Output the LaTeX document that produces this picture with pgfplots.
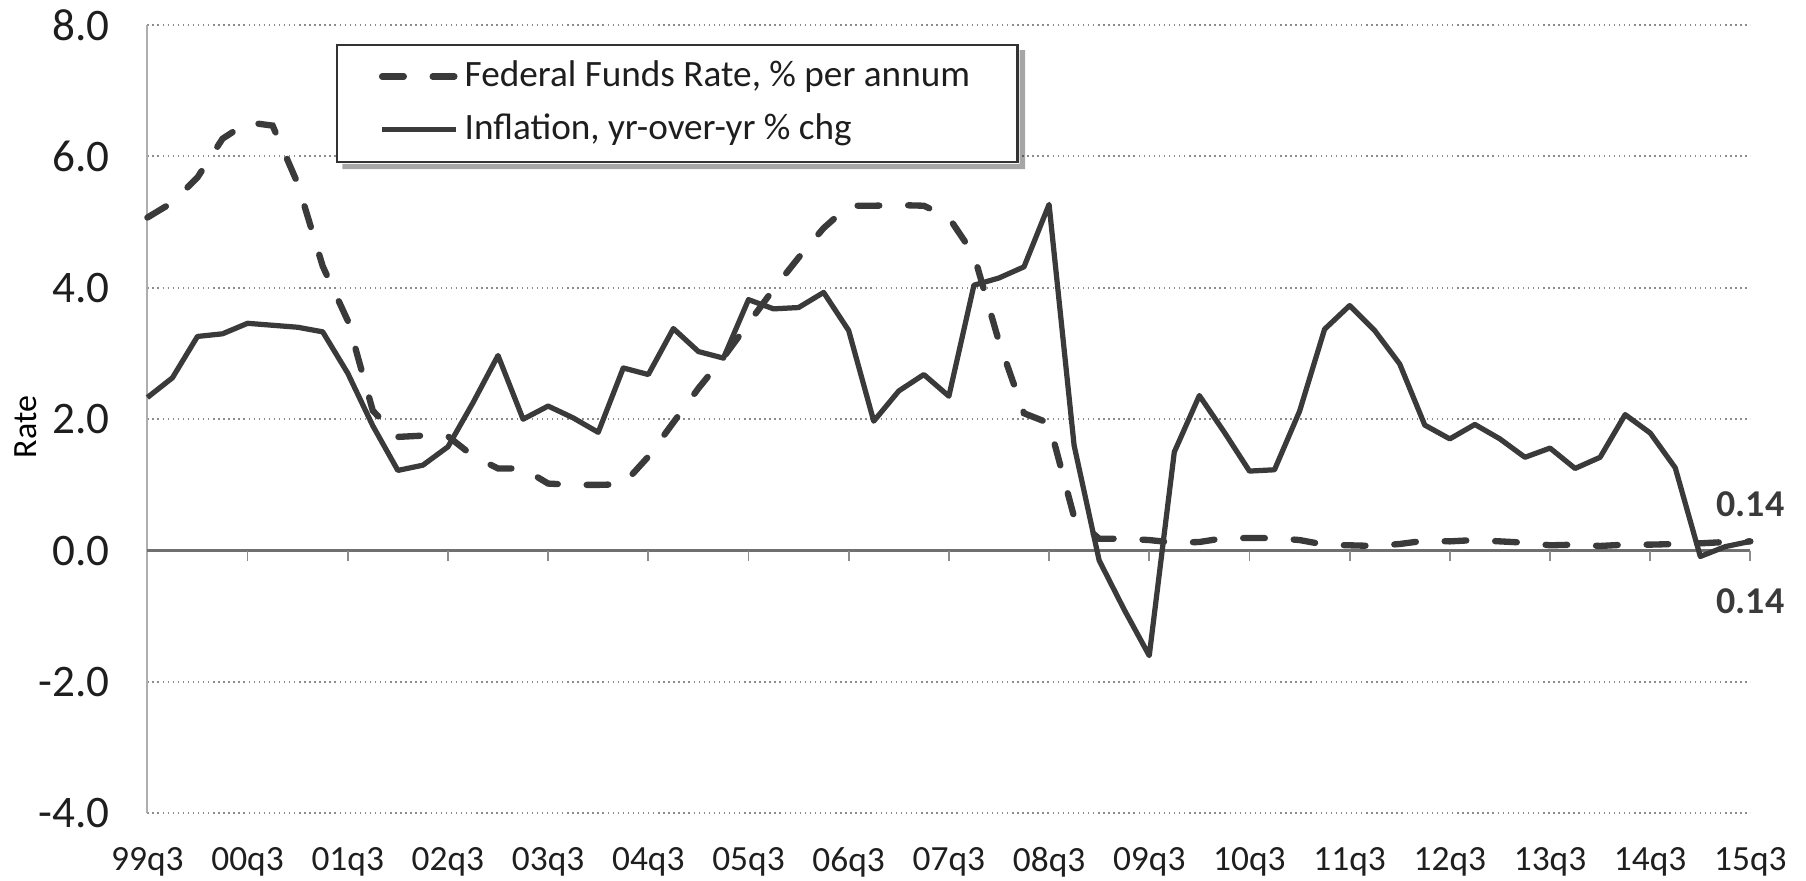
\documentclass[border=0pt]{standalone}
\usepackage{pgfplots}
\pgfplotsset{compat=1.18}
\usepackage{pgfplotstable}
\usepackage{fontspec}
\setmainfont{Carlito}
\definecolor{lc}{HTML}{3A3A3A}
\definecolor{gridc}{HTML}{8C8C8C}
\definecolor{txt}{HTML}{1E1E1E}

\pgfplotstableread{
i ffr cpi
0 5.07 2.33
1 5.30 2.63
2 5.68 3.26
3 6.27 3.30
4 6.52 3.46
5 6.47 3.43
6 5.59 3.40
7 4.33 3.33
8 3.50 2.70
9 2.13 1.90
10 1.73 1.22
11 1.75 1.30
12 1.74 1.58
13 1.44 2.25
14 1.25 2.97
15 1.25 2.00
16 1.02 2.20
17 1.00 2.02
18 1.00 1.80
19 1.01 2.78
20 1.43 2.68
21 1.95 3.38
22 2.47 3.03
23 2.94 2.93
24 3.46 3.82
25 3.98 3.68
26 4.46 3.70
27 4.91 3.93
28 5.25 3.35
29 5.25 1.97
30 5.26 2.43
31 5.25 2.68
32 5.07 2.35
33 4.50 4.04
34 3.18 4.15
35 2.09 4.32
36 1.94 5.27
37 0.51 1.60
38 0.18 -0.15
39 0.18 -0.90
40 0.16 -1.60
41 0.12 1.50
42 0.13 2.36
43 0.19 1.80
44 0.19 1.21
45 0.19 1.23
46 0.16 2.12
47 0.09 3.37
48 0.08 3.73
49 0.07 3.35
50 0.10 2.84
51 0.15 1.91
52 0.14 1.70
53 0.16 1.92
54 0.14 1.70
55 0.12 1.42
56 0.08 1.56
57 0.09 1.25
58 0.07 1.42
59 0.09 2.07
60 0.09 1.79
61 0.10 1.26
62 0.11 -0.09
63 0.13 0.06
64 0.14 0.14
}\datatable

\begin{document}
\begin{tikzpicture}
\begin{axis}[
  scale only axis, width=443.8pt, height=218.2pt,
  xmin=0, xmax=64, ymin=-4, ymax=8,
  clip=false,
  axis lines*=left,
  x axis line style={draw=none},
  y axis line style={gridc!70, line width=0.6pt},
  tick style={draw=none},
  xtick={0,4,...,64},
  xticklabels={99q3,00q3,01q3,02q3,03q3,04q3,05q3,06q3,07q3,08q3,09q3,10q3,11q3,12q3,13q3,14q3,15q3},
  ytick={-4,-2,...,8},
  /pgf/number format/assume math mode=true,
  y tick label style={/pgf/number format/.cd, fixed, fixed zerofill, precision=1, /tikz/.cd,
     font=\fontsize{12.5}{14}\selectfont, text=txt, xshift=-7pt},
  x tick label style={font=\fontsize{9.8}{11}\selectfont, text=txt, yshift=-6pt},
  ymajorgrids,
  grid style={densely dotted, gridc, line width=0.55pt},
  every axis y label/.style={at={(axis description cs:-0.0757,0.49)}, rotate=90, anchor=center},
  ylabel={\fontsize{9.4}{11}\selectfont Rate},
  legend style={at={(axis cs:7.53,7.72)}, anchor=north west, draw=black!80, line width=0.6pt,
     fill=white, name=leg,
     font=\fontsize{10.3}{12}\selectfont, text=txt,
     inner xsep=11.6pt, inner ysep=3pt, row sep=3.1pt, nodes={inner sep=1.5pt}},
  legend cell align=left,
  legend image code/.code={\draw[#1] (0pt,0pt) -- (20.5pt,0pt);},
]
\draw[gridc!80!black, line width=0.6pt] (axis cs:0,0) -- (axis cs:64,0);
\pgfplotsinvokeforeach{4,8,...,64}{\draw[gridc, line width=0.5pt] (axis cs:#1,0) -- ([yshift=-3pt]axis cs:#1,0);}
\addplot[lc, line width=1.75pt, line cap=round, dash pattern=on 6pt off 8pt] table[x=i,y=ffr]{\datatable};
\addlegendentry{Federal Funds Rate, \% per annum}
\addplot[lc, line width=1.45pt, line join=round] table[x=i,y=cpi]{\datatable};
\addlegendentry{Inflation, yr-over-yr \% chg}
\node[font=\bfseries\fontsize{10.5}{12}\selectfont, text=lc] at (axis cs:64,0.70) {0.14};
\node[font=\bfseries\fontsize{10.5}{12}\selectfont, text=lc] at (axis cs:64,-0.77) {0.14};
\end{axis}
\fill[black, opacity=0.35] ([xshift=1.8pt,yshift=-0.3pt]leg.south west) rectangle ([xshift=1.8pt,yshift=-1.8pt]leg.south east)
  ([xshift=0.3pt,yshift=-1.8pt]leg.north east) rectangle ([xshift=1.8pt,yshift=-0.3pt]leg.south east);
\path (current axis.south west) ++(-40.8pt,-18.5pt) coordinate (bl);
\path (current axis.north east) ++(15.4pt,6.95pt) coordinate (tr);
\pgfresetboundingbox
\path (bl) rectangle (tr);
\end{tikzpicture}
\end{document}
